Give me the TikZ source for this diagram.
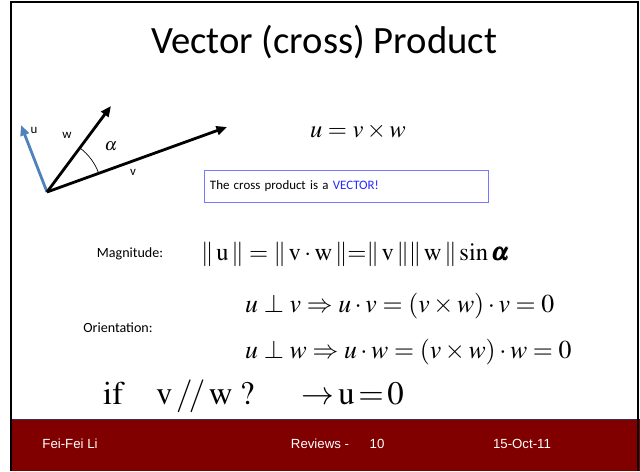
\documentclass[tikz,border=0pt]{standalone}
\usepackage{mathptmx}
\usepackage{amsmath,bm}
\usepackage[no-math]{fontspec}
\setmainfont{Carlito}
\newfontfamily\footfont{Liberation Sans}
\usepackage{xcolor}
\usetikzlibrary{arrows.meta, positioning, calc}

\definecolor{footred}{RGB}{128,0,0}
\definecolor{ublue}{RGB}{79,129,189}
\definecolor{boxblue}{RGB}{120,120,255}
\definecolor{vecblue}{RGB}{40,40,255}

\begin{document}
\begin{tikzpicture}[
      x=0.03cm, y=-0.03cm,
      vec/.style={-{Triangle[length=9pt, width=7.5pt]}, line width=2.4pt},
      lbl/.style={font=\fontsize{11}{13}\selectfont, inner sep=1pt},
      small/.style={font=\fontsize{12}{14}\selectfont, inner sep=1pt},
      eqn/.style={font=\fontsize{22}{26}\selectfont, inner sep=0pt},
      note/.style={draw=boxblue, line width=0.8pt, font=\fontsize{11}{13}\selectfont,
                   text width=8.16cm, inner xsep=0.18cm, minimum height=0.96cm, align=left},
      foot/.style={font=\footfont\fontsize{11.3}{13}\selectfont, text=white, inner sep=1pt}
    ]
    \useasboundingbox (0,0) rectangle (640,471);

    % slide frame and footer band
    \fill[footred] (11,419) rectangle (640,471);
    \draw[color={rgb,255:red,50;green,50;blue,90}, line width=0.6pt] (11,419) -- (638,419);
    \draw[line width=2.4pt] (11,471) -- (11,2) -- (638,2) -- (638,471);

    \node[font=\fontsize{33}{38}\selectfont] (title) at (324,42) {Vector (cross) Product};

    % the three vectors
    \coordinate (o) at (47,192);
    \coordinate (utip) at (21,125);
    \coordinate (wtip) at (111,106);
    \coordinate (vtip) at (227,127);
    \draw[vec, ublue] (o) -- (utip);
    \draw[vec] (o) -- (wtip);
    \draw[vec] (o) -- (vtip);
    \draw[line width=0.6pt] ($(o)+(-53:55)$) arc[start angle=-53, end angle=-20, radius=55];
    \node[lbl] (ulbl) at (34,130) {u};
    \node[lbl] (wlbl) at (67,135) {w};
    \node[lbl] (vlbl) at (133,172) {v};
    \node[font=\fontsize{15}{18}\selectfont, inner sep=0pt] (alpha) at (111,146) {$\alpha$};

    \node[font=\fontsize{21}{25}\selectfont, inner sep=0pt] (cross) at (358,131) {$u = v \times w$};
    \node[note] (isvec) at (346,186) {The cross product is a \textcolor{vecblue}{VECTOR!}};

    % magnitude
    \node[small] (mag) at (130,254) {Magnitude:};
    \node[eqn, anchor=west, font=\fontsize{21}{26}\selectfont] (magf) at (201,254)
      {$\|\,\mathrm{u}\,\| = \|\,\mathrm{v}\cdot\mathrm{w}\,\| {=} \|\,\mathrm{v}\,\|\|\,\mathrm{w}\,\|\sin\bm{\alpha}$};

    % orientation
    \node[small] (orient) at (118,328) {Orientation:};
    \node[eqn, anchor=west] (perpv) at (245,306) {$u \perp v \Rightarrow u\cdot v = (v\times w)\cdot v = 0$};
    \node[eqn, anchor=west] (perpw) at (245,352) {$u \perp w \Rightarrow u\cdot w = (v\times w)\cdot w = 0$};

    \node[eqn, anchor=west, font=\fontsize{28}{32}\selectfont] (parallel) at (103,396)
      {$\mathrm{if}\quad \mathrm{v}\,/\!/\,\mathrm{w}\;?\quad\; \to\! \mathrm{u}\,{=}\,0$};

    % footer
    \node[foot] (author) at (70,444) {Fei-Fei Li};
    \node[foot] (reviews) at (320,444) {Reviews -};
    \node[foot] (page) at (377,444) {10};
    \node[foot] (date) at (522,444) {15-Oct-11};
  \end{tikzpicture}
\end{document}
